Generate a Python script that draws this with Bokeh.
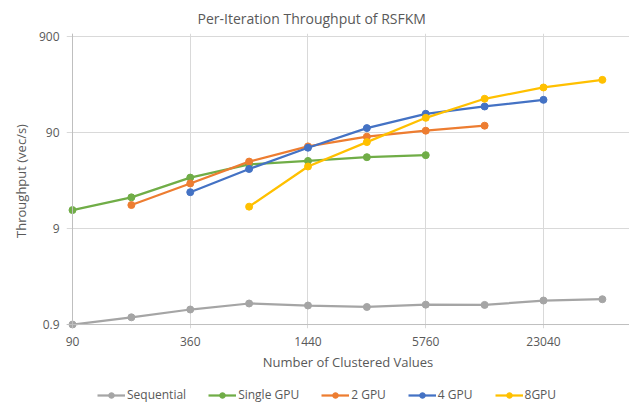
from bokeh.plotting import figure
from bokeh.layouts import column
from bokeh.models import (Range1d, FixedTicker, Legend, LegendItem, Span)
from bokeh.embed import file_html
from bokeh.resources import INLINE

# ---- data ----
x_values = [90, 180, 360, 720, 1440, 2880, 5760, 11520, 23040, 46080]
sequential = [0.9, 1.07, 1.29, 1.49, 1.42, 1.37, 1.45, 1.44, 1.60, 1.65]
single_gpu_x = [90, 180, 360, 720, 1440, 2880, 5760]
single_gpu = [14.0, 19.0, 30.5, 42.0, 45.5, 49.8, 52.3]
gpu2_x = [180, 360, 720, 1440, 2880, 5760, 11520]
gpu2 = [15.8, 26.5, 44.8, 64.5, 81.5, 94.0, 106.0]
gpu4_x = [360, 720, 1440, 2880, 5760, 11520, 23040]
gpu4 = [21.5, 37.5, 62.5, 100.0, 141.0, 168.0, 197.0]
gpu8_x = [720, 1440, 2880, 5760, 11520, 23040, 46080]
gpu8 = [15.2, 39.8, 71.5, 128.0, 202.0, 265.0, 318.0]

series_names = ["Sequential", "Single GPU", "2 GPU", "4 GPU", "8GPU"]
series_colors = ["#A5A5A5", "#70AD47", "#ED7D31", "#4472C4", "#FFC000"]
series_x = [x_values, single_gpu_x, gpu2_x, gpu4_x, gpu8_x]
series_y = [sequential, single_gpu, gpu2, gpu4, gpu8]

x_ticks = [90, 360, 1440, 5760, 23040]
x_tick_labels = ["90", "360", "1440", "5760", "23040"]
y_ticks = [0.9, 9, 90, 900]
y_tick_labels = ["0.9", "9", "90", "900"]

FONT = "Open Sans"
TEXT = "#595959"

p = figure(width=629, height=385, output_backend="svg", toolbar_location=None,
           x_axis_type="log", y_axis_type="log",
           x_range=Range1d(83.86, 63420), y_range=Range1d(0.818, 967),
           title="Per-Iteration Throughput of RSFKM")
p.min_border_left = 66
p.min_border_right = 0
p.min_border_top = 32
p.min_border_bottom = 57
p.outline_line_color = None

p.title.text_font = FONT
p.title.text_font_size = "14px"
p.title.text_font_style = "normal"
p.title.text_color = TEXT
p.title.align = "left"
p.title.offset = 131
p.title.standoff = 12

for ax in (p.xaxis[0], p.yaxis[0]):
    ax.axis_line_color = None
    ax.major_tick_line_color = None
    ax.minor_tick_line_color = None
    ax.major_label_text_font = FONT
    ax.major_label_text_font_size = "12px"
    ax.major_label_text_color = TEXT
    ax.axis_label_text_font = FONT
    ax.axis_label_text_font_size = "13px"
    ax.axis_label_text_font_style = "normal"
    ax.axis_label_text_color = TEXT

p.xaxis.ticker = FixedTicker(ticks=x_ticks)
p.xaxis.major_label_overrides = dict(zip(x_ticks, x_tick_labels))
p.yaxis.ticker = FixedTicker(ticks=y_ticks)
p.yaxis.major_label_overrides = dict(zip(y_ticks, y_tick_labels))
p.xaxis.axis_label = "Number of Clustered Values"
p.yaxis.axis_label = "Throughput (vec/s)"
p.xaxis.major_label_standoff = 2
p.yaxis.major_label_standoff = 1
p.xaxis.axis_label_standoff = 4
p.yaxis.axis_label_standoff = 6

p.xgrid.ticker = FixedTicker(ticks=x_ticks)
p.ygrid.ticker = FixedTicker(ticks=y_ticks)
p.xgrid.grid_line_color = "#D9D9D9"
p.ygrid.grid_line_color = "#D9D9D9"

p.add_layout(Span(location=x_ticks[0], dimension="height", line_color="#BFBFBF", line_width=1))
p.add_layout(Span(location=y_ticks[0], dimension="width", line_color="#BFBFBF", line_width=1))

for name, color, xs, ys in zip(series_names, series_colors, series_x, series_y):
    p.line(xs, ys, line_color=color, line_width=2.25)
    p.scatter(xs, ys, marker="circle", size=7, fill_color=color, line_color=color)

# ---- legend strip below the chart (its own renderers fall outside its range) ----
lg = figure(width=629, height=22, output_backend="svg", toolbar_location=None,
            x_range=Range1d(0, 1), y_range=Range1d(0, 1),
            x_axis_location=None, y_axis_location=None)
lg.min_border_left = 0
lg.min_border_right = 0
lg.min_border_top = 0
lg.min_border_bottom = 0
lg.outline_line_color = None
lg.xgrid.visible = False
lg.ygrid.visible = False

items = []
for name, color, xs, ys in zip(series_names, series_colors, series_x, series_y):
    lr = lg.line(xs, ys, line_color=color, line_width=2.25)
    sr = lg.scatter(xs, ys, marker="circle", size=6, fill_color=color, line_color=color)
    items.append(LegendItem(label=name, renderers=[lr, sr]))

legend = Legend(items=items, orientation="horizontal", location=(31, 4))
legend.padding = 0
legend.margin = 0
legend.spacing = 22
legend.glyph_width = 28
legend.glyph_height = 14
legend.label_height = 14
legend.label_standoff = 2
legend.label_text_font = FONT
legend.label_text_font_size = "12px"
legend.label_text_color = TEXT
legend.border_line_color = None
legend.background_fill_alpha = 0
lg.add_layout(legend)

layout = column(p, lg, spacing=0)
open("out.html", "w").write(file_html(layout, INLINE))
